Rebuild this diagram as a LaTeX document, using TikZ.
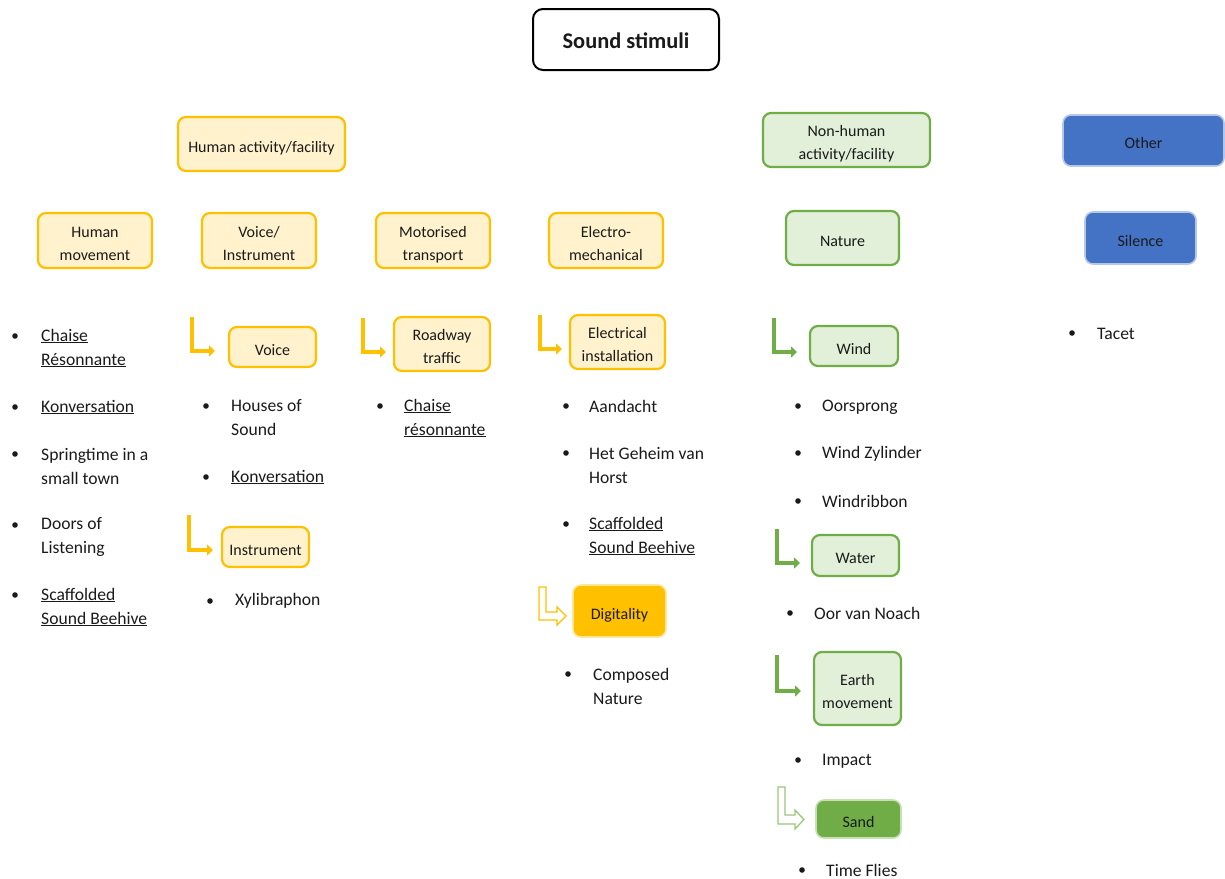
\documentclass[tikz,border=0pt]{standalone}
\usepackage{fontspec}
\setmainfont{Carlito}
\usetikzlibrary{arrows.meta}
\definecolor{yfill}{HTML}{FFF2CC}
\definecolor{yline}{HTML}{FFC000}
\definecolor{yglow}{HTML}{FFE699}
\definecolor{gfill}{HTML}{E2F0D9}
\definecolor{gline}{HTML}{70AD47}
\definecolor{gglow}{HTML}{C5E0B4}
\definecolor{bfill}{HTML}{4472C4}
\definecolor{bline}{HTML}{B4C7E7}
\definecolor{ink}{HTML}{1A1A1A}
\newcommand\bx[7]{\node[#1, minimum width=#5pt, minimum height=#6pt] (#2) at (#3,#4)
  {\raisebox{-3.5pt}[\height][\depth]{\begin{tabular}{@{}c@{}}#7\end{tabular}}};}
\newcommand\bul[6]{\fill[ink] (#2,#4) circle (2.8pt);
  \node[item] (#1) at (#3,#5) {#6};}
\begin{document}
\begin{tikzpicture}[x=1pt,y=-1pt,
  box/.style={rounded corners=8pt, line width=2.2pt, align=center, inner sep=0pt, text=ink,
    font=\fontsize{16}{23}\selectfont},
  ybox/.style={box, draw=yline, fill=yfill},
  gbox/.style={box, draw=gline, fill=gfill},
  bbox/.style={box, draw=bline, fill=bfill, line width=1.6pt},
  ydark/.style={box, draw=yglow, fill=yline, line width=1.6pt},
  gdark/.style={box, draw=gglow, fill=gline, line width=1.6pt},
  titlebox/.style={box, draw=black, fill=white, line width=2pt, rounded corners=10pt,
    font=\fontsize{22.4}{26}\selectfont\bfseries},
  item/.style={anchor=west, align=left, inner sep=0pt, text=ink, font=\fontsize{17.6}{24}\selectfont},
  larrow/.style={draw=#1, line width=4pt, line join=miter, -{Triangle[length=6pt,width=11pt]}},
  hollow/.style={draw=#1, line width=1.3pt, fill=white, line join=miter}
]
\useasboundingbox (0,0) rectangle (1225,878);

% boxes
\bx{titlebox}{title}{626}{39.5}{186}{61}{Sound stimuli}
\bx{ybox}{hact}{261.5}{144}{167}{54}{Human activity/facility}
\bx{gbox}{nhact}{846.5}{140}{167}{54}{Non-human\\activity/facility}
\bx{bbox}{other}{1143.5}{140.5}{161}{51}{Other}
\bx{ybox}{hmove}{95}{240.5}{114}{55}{Human\\movement}
\bx{ybox}{voiceinst}{259}{240.5}{114}{55}{Voice/\\Instrument}
\bx{ybox}{motor}{433}{240.5}{114}{55}{Motorised\\transport}
\bx{ybox}{electro}{606}{240.5}{114}{55}{Electro-\\mechanical}
\bx{gbox}{nature}{842.5}{238}{113}{54}{Nature}
\bx{bbox}{silence}{1140.5}{238}{111}{52}{Silence}
\bx{ybox}{voice}{272.5}{347}{87}{40}{Voice}
\bx{ybox}{roadway}{442}{344}{96}{54}{Roadway\\traffic}
\bx{ybox}{electrical}{617.5}{342}{95}{54}{Electrical\\installation}
\bx{gbox}{wind}{854}{346}{88}{40}{Wind}
\bx{ybox}{instrument}{265.5}{547}{87}{40}{Instrument}
\bx{ydark}{digitality}{619.5}{611}{93}{52}{Digitality}
\bx{gbox}{water}{855.5}{555.5}{87}{41}{Water}
\bx{gbox}{earth}{857.5}{688.5}{87}{73}{Earth\\movement}
\bx{gdark}{sand}{858.5}{819}{85}{38}{Sand}

% bent arrows
\coordinate (va) at (192,317); \coordinate (vt) at (215,351);
\draw[larrow=yline] (va) |- (vt);
\coordinate (ra) at (363,318); \coordinate (rt) at (386,352);
\draw[larrow=yline] (ra) |- (rt);
\coordinate (ea) at (540,315); \coordinate (et) at (562,349);
\draw[larrow=yline] (ea) |- (et);
\coordinate (ia) at (189,515); \coordinate (it) at (213,550);
\draw[larrow=yline] (ia) |- (it);
\coordinate (wa) at (774,318); \coordinate (wt) at (797,352);
\draw[larrow=gline] (wa) |- (wt);
\coordinate (wwa) at (777,529); \coordinate (wwt) at (800,563);
\draw[larrow=gline] (wwa) |- (wwt);
\coordinate (ema) at (777,655); \coordinate (emt) at (801,691);
\draw[larrow=gline] (ema) |- (emt);
% hollow bent arrows
\draw[hollow=yline] (539,587) -- (546,587) -- (546,612) -- (557,612) -- (557,607)
  -- (566,616) -- (557,625) -- (557,620) -- (539,620) -- cycle;
\draw[hollow=gline!70] (778,787) -- (785,787) -- (785,815) -- (795,815) -- (795,810)
  -- (804,819.5) -- (795,829) -- (795,824) -- (778,824) -- cycle;

% bullet lists
\bul{c1a}{15}{41}{336}{348}{\underline{Chaise}\\\underline{Résonnante}}
\bul{c1b}{15}{41}{407}{407}{\underline{Konversation}}
\bul{c1c}{15}{41}{454}{466}{Springtime in a\\small town}
\bul{c1d}{15}{41}{525}{537}{Doors of\\Listening}
\bul{c1e}{15}{41}{595}{607}{\underline{Scaffolded}\\\underline{Sound Beehive}}
\bul{c2a}{206}{231}{406}{418}{Houses of\\Sound}
\bul{c2b}{206}{231}{477}{477}{\underline{Konversation}}
\bul{c2c}{210}{235}{601}{601}{Xylibraphon}
\bul{c3a}{380}{404}{406}{418}{\underline{Chaise}\\\underline{résonnante}}
\bul{c4a}{566}{589}{406}{406}{Aandacht}
\bul{c4b}{566}{589}{453}{465}{Het Geheim van\\Horst}
\bul{c4c}{566}{589}{524}{536}{\underline{Scaffolded}\\\underline{Sound Beehive}}
\bul{c4d}{568}{593}{674}{686}{Composed\\Nature}
\bul{c5a}{798}{822}{406}{407}{Oorsprong}
\bul{c5b}{798}{822}{453}{454}{Wind Zylinder}
\bul{c5c}{798}{822}{501}{501}{Windribbon}
\bul{c5d}{790}{814}{613}{613}{Oor van Noach}
\bul{c5e}{798}{822}{760}{761}{Impact}
\bul{c5f}{802}{826}{870}{870}{Time Flies}
\bul{c6a}{1072}{1097}{333}{334}{Tacet}
\end{tikzpicture}
\end{document}
